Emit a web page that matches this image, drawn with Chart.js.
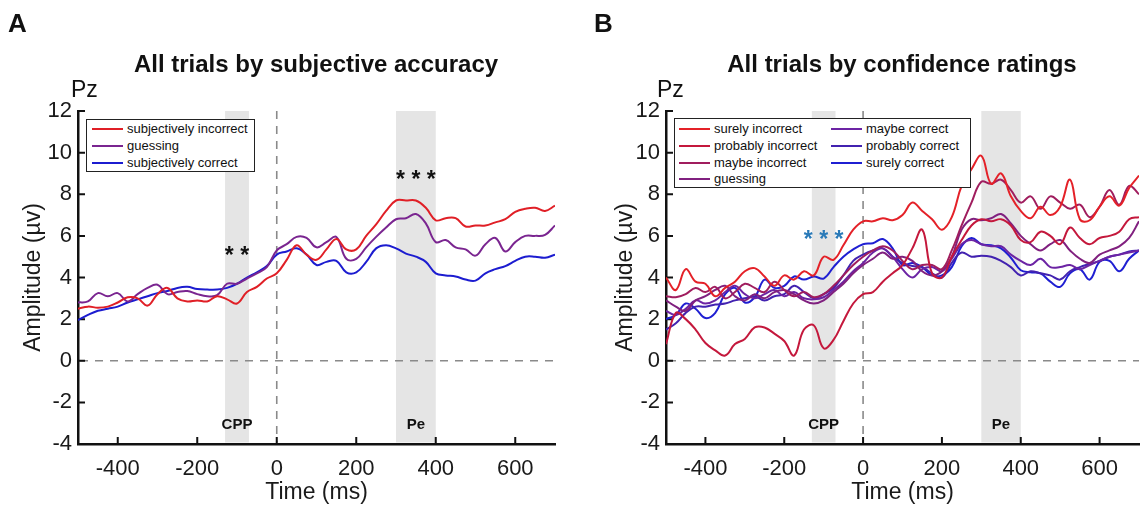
<!DOCTYPE html>
<html lang="en">
<head>
  <meta charset="UTF-8" />
  <title>Pz amplitude by accuracy and confidence</title>
  <script src="https://cdn.jsdelivr.net/npm/chart.js"></script>
  <style>
    body {
      margin: 0;
      background: #ffffff;
      width: 1141px;
      height: 506px;
      overflow: hidden;
      position: relative;
      font-family: 'Liberation Sans', Arial, sans-serif;
      color: #111;
    }
    .panel { position: absolute; top: 0; }
    .txt { position: absolute; white-space: nowrap; line-height: 1; }
    .letter { font-size: 26px; font-weight: bold; }
    .title { font-size: 24px; font-weight: bold; transform: translateX(-50%); }
    .pz { font-size: 23px; }
    .legend {
      position: absolute;
      background: #ffffff;
      border: 1.5px solid #222;
      box-sizing: border-box;
    }
    .legend .item { position: absolute; font-size: 13px; line-height: 1; white-space: nowrap; }
    .legend .swatch { position: absolute; height: 2px; width: 31px; }
  </style>
</head>
<body>
  <canvas id="chartA" class="panel" style="left:0" width="570" height="506"></canvas>
  <canvas id="chartB" class="panel" style="left:570px" width="571" height="506"></canvas>

  <div class="txt letter" style="left:8px; top:10px;">A</div>
  <div class="txt letter" style="left:594px; top:10px;">B</div>
  <div class="txt title" style="left:316px; top:52px;">All trials by subjective accuracy</div>
  <div class="txt title" style="left:902px; top:52px;">All trials by confidence ratings</div>
  <div class="txt pz" style="left:71px; top:78px;">Pz</div>
  <div class="txt pz" style="left:657px; top:78px;">Pz</div>

  <div class="legend" id="legendA" style="left:86px; top:119px; width:169px; height:53px;"></div>
  <div class="legend" id="legendB" style="left:674px; top:118px; width:297px; height:70px;"></div>

  <script>
    // time axis (ms), shared by all series
    const times = [-500, -475, -450, -425, -400, -375, -350, -325, -300, -275,
                   -250, -225, -200, -175, -150, -125, -100, -75, -50, -25,
                   0, 25, 50, 75, 100, 125, 150, 175, 200, 225,
                   250, 275, 300, 325, 350, 375, 400, 425, 450, 475,
                   500, 525, 550, 575, 600, 625, 650, 675, 700];

    const xTicks = [-400, -200, 0, 200, 400, 600];
    const yTicks = [-4, -2, 0, 2, 4, 6, 8, 10, 12];

    // panel A: by subjective accuracy
    const namesA = ['subjectively incorrect', 'guessing', 'subjectively correct'];
    const colorsA = ['#e01f26', '#7a2590', '#1c1cd0'];
    const subjIncorrect = [2.5, 2.6, 2.55, 2.6, 2.8, 3.05, 3.0, 2.65, 3.2, 3.5,
                           3.0, 2.85, 2.9, 2.85, 3.1, 2.95, 2.75, 3.3, 3.55, 3.95,
                           4.2, 4.85, 5.55, 5.1, 4.85, 5.35, 5.85, 5.35, 5.35, 6.0,
                           6.55, 7.2, 7.7, 7.7, 7.7, 7.35, 6.75, 6.85, 6.85, 6.45,
                           6.5, 6.5, 6.65, 6.8, 7.15, 7.3, 7.35, 7.2, 7.45];
    const guessingA = [2.8, 2.85, 3.25, 3.1, 3.25, 2.85, 3.2, 3.5, 3.65, 3.2,
                       3.3, 3.35, 3.2, 3.1, 3.15, 3.7, 3.7, 3.95, 4.2, 4.5,
                       5.3, 5.6, 5.95, 5.9, 5.45, 5.7, 5.95, 4.9, 4.9, 5.45,
                       5.95, 6.4, 6.8, 6.85, 7.05, 6.6, 5.7, 5.8, 5.45, 5.35,
                       5.05, 5.6, 5.9, 5.25, 5.7, 6.0, 6.0, 6.05, 6.5];
    const subjCorrect = [1.95, 2.2, 2.4, 2.5, 2.6, 2.8, 2.95, 3.1, 3.25, 3.35,
                         3.5, 3.55, 3.45, 3.42, 3.42, 3.5, 3.7, 4.0, 4.25, 4.55,
                         5.1, 5.25, 5.4, 5.1, 4.6, 4.75, 4.8, 4.25, 4.25, 4.75,
                         5.4, 5.55, 5.4, 5.15, 5.0, 4.75, 4.2, 4.1, 4.05, 3.9,
                         3.85, 4.2, 4.4, 4.55, 4.8, 5.0, 5.0, 4.95, 5.1];

    // panel B: by confidence rating
    const namesB = ['surely incorrect', 'probably incorrect', 'maybe incorrect', 'guessing',
                    'maybe correct', 'probably correct', 'surely correct'];
    const colorsB = ['#e42128', '#c4183c', '#a01d5e', '#80207f', '#6c24a4', '#4222b0', '#1f1fd2'];
    const surelyIncorrect = [4.0, 3.4, 4.4, 3.8, 3.7, 3.1, 3.5, 3.8, 4.3, 4.45,
                             4.05, 3.6, 4.1, 3.9, 4.3, 4.1, 5.0, 4.85, 5.55, 6.3,
                             6.7, 6.7, 6.85, 6.75, 7.0, 7.6, 7.2, 6.8, 6.3, 6.9,
                             8.4, 9.2, 9.85, 8.5, 9.0, 7.9, 7.2, 6.85, 7.4, 7.0,
                             7.4, 8.7, 6.8, 6.75, 7.4, 7.9, 7.45, 8.3, 8.9];
    const probablyIncorrect = [0.8, 2.3, 2.0, 1.5, 0.85, 0.5, 0.25, 0.8, 1.05, 1.6,
                               1.6, 1.3, 0.95, 0.25, 1.5, 1.7, 0.6, 1.0, 1.9, 2.75,
                               3.2, 3.3, 3.8, 4.2, 4.6, 5.4, 6.3, 4.2, 4.0, 5.0,
                               5.8, 6.5, 6.8, 6.7, 6.8, 6.5, 5.8, 5.7, 6.2, 6.0,
                               5.6, 6.4, 5.9, 5.6, 5.9, 6.0, 6.2, 6.8, 6.9];
    const maybeIncorrect = [3.1, 3.05, 3.2, 3.5, 3.3, 3.55, 3.0, 3.3, 3.7, 3.5,
                            3.3, 3.8, 3.4, 3.1, 3.3, 3.05, 3.2, 3.6, 4.1, 4.6,
                            5.0, 5.3, 5.5, 5.3, 4.8, 4.4, 4.6, 4.6, 4.4, 5.3,
                            6.5, 7.6, 8.6, 8.5, 8.7, 8.2, 7.6, 7.9, 7.3, 7.9,
                            7.6, 7.3, 7.5, 6.9, 7.4, 8.2, 7.5, 8.4, 8.0];
    const guessingB = [2.9, 2.6, 2.4, 2.9, 3.1, 3.4, 3.6, 3.1, 2.9, 3.2,
                       3.0, 3.3, 3.4, 3.2, 2.9, 2.75, 2.9, 3.3, 3.7, 4.2,
                       4.6, 4.9, 5.2, 4.9, 5.0, 4.8, 4.3, 4.1, 4.3, 5.0,
                       6.3, 6.8, 6.75, 6.85, 7.05, 6.6, 6.0, 5.6, 5.3, 5.6,
                       5.8, 5.3, 4.9, 4.7, 5.1, 5.3, 5.5, 5.9, 6.7];
    const maybeCorrect = [2.4, 2.2, 2.5, 2.9, 2.75, 2.9, 3.3, 3.6, 3.2, 3.0,
                          3.2, 3.4, 3.1, 3.3, 3.0, 2.95, 3.05, 3.4, 3.8, 4.3,
                          4.7, 5.2, 5.4, 5.0, 4.4, 4.0, 4.4, 4.5, 4.3, 4.9,
                          5.6, 5.8, 5.6, 5.5, 5.5, 5.1, 4.8, 4.6, 4.9, 4.5,
                          4.5, 4.6, 4.4, 4.6, 4.8, 5.0, 5.1, 5.2, 5.3];
    const probablyCorrect = [1.5, 1.8, 2.3, 2.6, 2.6, 2.7, 2.75, 2.9, 3.0, 3.1,
                             2.9, 3.1, 3.2, 3.6, 3.3, 3.0, 3.2, 3.5, 4.1, 4.8,
                             5.1, 5.3, 5.4, 5.0, 4.7, 4.55, 4.5, 4.2, 4.0, 4.7,
                             5.2, 5.0, 5.05, 5.0, 4.8, 4.5, 4.1, 4.3, 4.2, 4.1,
                             3.9, 4.3, 4.5, 4.65, 4.8, 5.0, 5.1, 5.25, 5.3];
    const surelyCorrect = [2.0, 2.2, 2.75, 2.5, 2.05, 2.3, 3.2, 3.5, 2.8, 3.05,
                           3.9, 3.5, 3.6, 4.05, 3.9, 4.05, 3.95, 4.5, 5.0, 5.35,
                           5.6, 5.65, 5.85, 5.4, 4.6, 4.7, 4.5, 4.1, 4.1, 4.5,
                           5.5, 5.9, 5.6, 5.55, 5.4, 4.95, 4.35, 4.25, 4.2, 3.8,
                           3.55, 4.2, 4.4, 3.9, 4.75, 4.8, 4.3, 4.9, 5.3];

    // analysis windows and significance marks
    const windows = [
      { label: 'CPP', from: -130, to: -70, labelAt: -3.3 },
      { label: 'Pe', from: 300, to: 400, labelAt: -3.3 }
    ];
    const starsA = [
      { text: '* *', t: -100, v: 5.3, color: '#111' },
      { text: '* * *', t: 350, v: 8.97, color: '#111' }
    ];
    const starsB = [
      { text: '* * *', t: -100, v: 6.08, color: '#2a7ab8' }
    ];

    const FONT = "'Liberation Sans', Arial, sans-serif";
    Chart.defaults.font.family = FONT;
    Chart.defaults.color = '#1a1a1a';

    // shaded windows, dashed zero lines, inward ticks, labels
    const decor = {
      id: 'decor',
      beforeDatasetsDraw(chart, args, o) {
        const { ctx, chartArea: a, scales: { x, y } } = chart;
        ctx.save();
        ctx.fillStyle = '#e5e5e5';
        o.windows.forEach(w => {
          const l = x.getPixelForValue(w.from);
          const r = x.getPixelForValue(w.to);
          ctx.fillRect(l, a.top, r - l, a.bottom - a.top - 1.5);
        });
        ctx.strokeStyle = '#8a8a8a';
        ctx.lineWidth = 1.6;
        ctx.setLineDash([8, 7]);
        const y0 = y.getPixelForValue(0);
        const x0 = x.getPixelForValue(0);
        ctx.beginPath(); ctx.moveTo(a.left + 2, y0); ctx.lineTo(a.right, y0); ctx.stroke();
        ctx.beginPath(); ctx.moveTo(x0, a.top); ctx.lineTo(x0, a.bottom - 2); ctx.stroke();
        ctx.setLineDash([]);
        ctx.strokeStyle = '#111';
        ctx.lineWidth = 2;
        ctx.beginPath();
        x.ticks.forEach(t => {
          const px = x.getPixelForValue(t.value);
          ctx.moveTo(px, a.bottom); ctx.lineTo(px, a.bottom - 7);
        });
        y.ticks.forEach(t => {
          const py = y.getPixelForValue(t.value);
          ctx.moveTo(a.left, py); ctx.lineTo(a.left + 7, py);
        });
        ctx.stroke();
        ctx.restore();
      },
      afterDatasetsDraw(chart, args, o) {
        const { ctx, scales: { x, y } } = chart;
        ctx.save();
        ctx.textAlign = 'center';
        ctx.textBaseline = 'alphabetic';
        ctx.fillStyle = '#111';
        ctx.font = 'bold 15px ' + FONT;
        o.windows.forEach(w => {
          ctx.fillText(w.label, x.getPixelForValue((w.from + w.to) / 2), y.getPixelForValue(w.labelAt));
        });
        ctx.font = 'bold 23px ' + FONT;
        o.stars.forEach(s => {
          ctx.fillStyle = s.color;
          ctx.fillText(s.text, x.getPixelForValue(s.t), y.getPixelForValue(s.v) + 13);
        });
        ctx.restore();
      }
    };

    function makeChart(id, names, colors, series, stars, yWidth, padRight, titlePad) {
      const ctx = document.getElementById(id).getContext('2d');
      return new Chart(ctx, {
        type: 'line',
        data: {
          labels: times,
          datasets: series.map((s, i) => ({
            label: names[i],
            data: s,
            borderColor: colors[i],
            borderWidth: 2,
            pointRadius: 0,
            tension: 0.4,
            fill: false
          }))
        },
        options: {
          responsive: false,
          animation: false,
          layout: { padding: { left: 0, right: padRight, top: 111, bottom: 0 } },
          scales: {
            x: {
              type: 'linear',
              min: -500,
              max: 700,
              afterBuildTicks: s => { s.ticks = xTicks.map(v => ({ value: v })); },
              afterFit: s => { s.height = 62; },
              grid: { display: false, drawTicks: false },
              border: { display: true, color: '#111', width: 2.5 },
              ticks: { font: { size: 22 }, padding: 12, maxRotation: 0, autoSkip: false },
              title: { display: true, text: 'Time (ms)', font: { size: 23 }, padding: { top: 0, bottom: 0 } }
            },
            y: {
              min: -4,
              max: 12,
              afterBuildTicks: s => { s.ticks = yTicks.map(v => ({ value: v })); },
              afterFit: s => { s.width = yWidth; },
              grid: { display: false, drawTicks: false },
              border: { display: true, color: '#111', width: 2.5 },
              ticks: { font: { size: 22 }, padding: 6 },
              title: { display: true, text: 'Amplitude (µv)', font: { size: 23 }, padding: { top: titlePad, bottom: 0 } }
            }
          },
          plugins: {
            legend: { display: false },
            tooltip: { enabled: false },
            decor: { windows: windows, stars: stars }
          }
        },
        plugins: [decor]
      });
    }

    makeChart('chartA', namesA, colorsA, [subjIncorrect, guessingA, subjCorrect], starsA, 78, 15, 20);
    makeChart('chartB', namesB, colorsB,
      [surelyIncorrect, probablyIncorrect, maybeIncorrect, guessingB, maybeCorrect, probablyCorrect, surelyCorrect],
      starsB, 96, 2, 42);

    // legends drawn as boxed html lists
    function buildLegend(el, names, colors, perColumn, colX, rowY) {
      names.forEach((name, i) => {
        const col = Math.floor(i / perColumn);
        const row = i % perColumn;
        const sw = document.createElement('div');
        sw.className = 'swatch';
        sw.style.background = colors[i];
        sw.style.left = colX[col] + 'px';
        sw.style.top = (rowY[row] - 1) + 'px';
        const tx = document.createElement('div');
        tx.className = 'item';
        tx.textContent = name;
        tx.style.left = (colX[col] + 35) + 'px';
        tx.style.top = (rowY[row] - 7) + 'px';
        el.appendChild(sw);
        el.appendChild(tx);
      });
    }
    buildLegend(document.getElementById('legendA'), namesA, colorsA, 3, [5], [9, 26, 43]);
    buildLegend(document.getElementById('legendB'), namesB, colorsB, 4, [4, 156], [10, 27, 44, 60]);
  </script>
</body>
</html>
